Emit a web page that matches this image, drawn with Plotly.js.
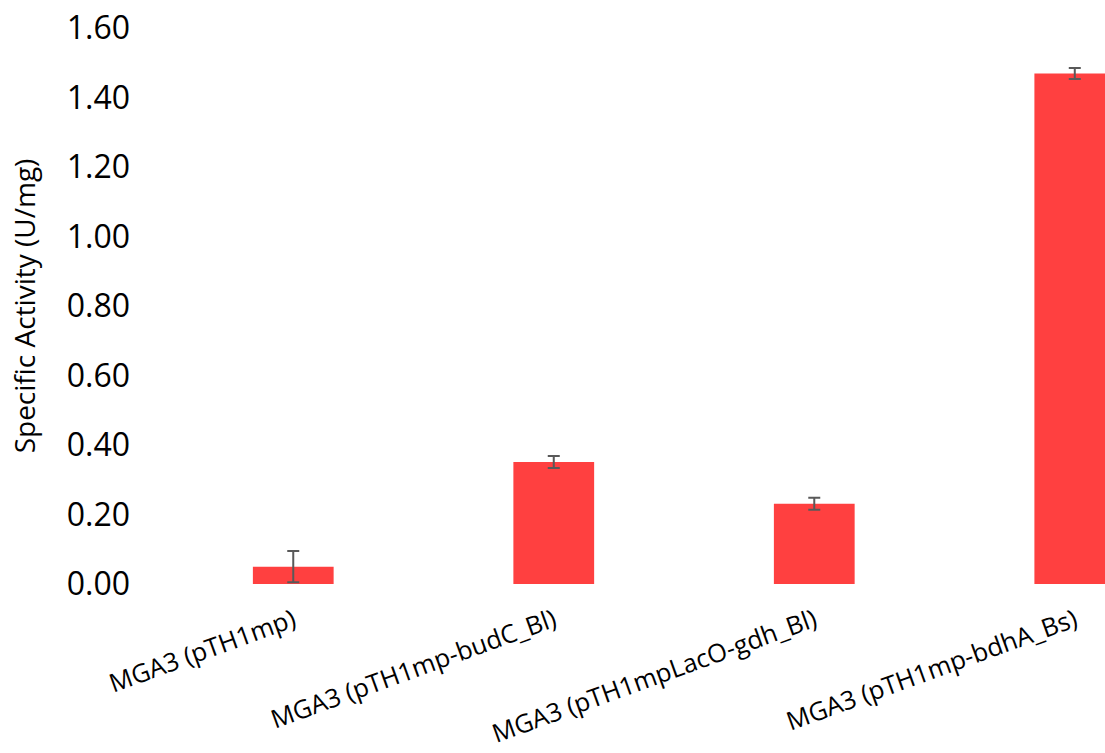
<!DOCTYPE html>
<html>
<head>
<meta charset="utf-8">
<script src="https://cdn.plot.ly/plotly-3.0.1.min.js"></script>
<style>html,body{margin:0;padding:0;background:#fff;}#chart{width:1105px;height:753px;}</style>
</head>
<body>
<div id="chart"></div>
<script>
const categories = ["MGA3 (pTH1mp)", "MGA3 (pTH1mp-budC_Bl)", "MGA3 (pTH1mpLacO-gdh_Bl)", "MGA3 (pTH1mp-bdhA_Bs)"];
const activity = [0.05, 0.351, 0.231, 1.469];
const errors = [0.045, 0.017, 0.017, 0.016];
const yTickVals = [0, 0.2, 0.4, 0.6, 0.8, 1.0, 1.2, 1.4, 1.6];

const trace = {
  type: 'bar',
  x: categories.map((c, i) => i),
  y: activity,
  width: 0.31,
  marker: {color: '#FF4040', line: {width: 0}},
  error_y: {type: 'data', array: errors, visible: true, color: '#595959', thickness: 2, width: 6}
};

const layout = {
  width: 1105, height: 753,
  margin: {l: 163, r: 0, t: 28, b: 169},
  paper_bgcolor: '#fff', plot_bgcolor: '#fff',
  showlegend: false,
  font: {family: '"Open Sans", sans-serif', color: '#000'},
  xaxis: {
    range: [-0.5, 3.116],
    tickmode: 'array',
    tickvals: categories.map((c, i) => i),
    ticktext: categories,
    tickangle: -20,
    tickfont: {size: 25.5, color: '#000'},
    showgrid: false, zeroline: false, showline: false, ticks: '',
    ticklabelstandoff: 16
  },
  yaxis: {
    range: [0, 1.6],
    tickmode: 'array',
    tickvals: yTickVals,
    ticktext: yTickVals.map(v => v.toFixed(2)),
    tickfont: {size: 32, color: '#000'},
    showgrid: false, zeroline: false, showline: false, ticks: '',
    ticklabelstandoff: 32,
    title: {text: 'Specific Activity (U/mg)', font: {size: 28, color: '#000'}, standoff: 22}
  }
};

Plotly.newPlot('chart', [trace], layout, {displayModeBar: false, staticPlot: true});
</script>
</body>
</html>
